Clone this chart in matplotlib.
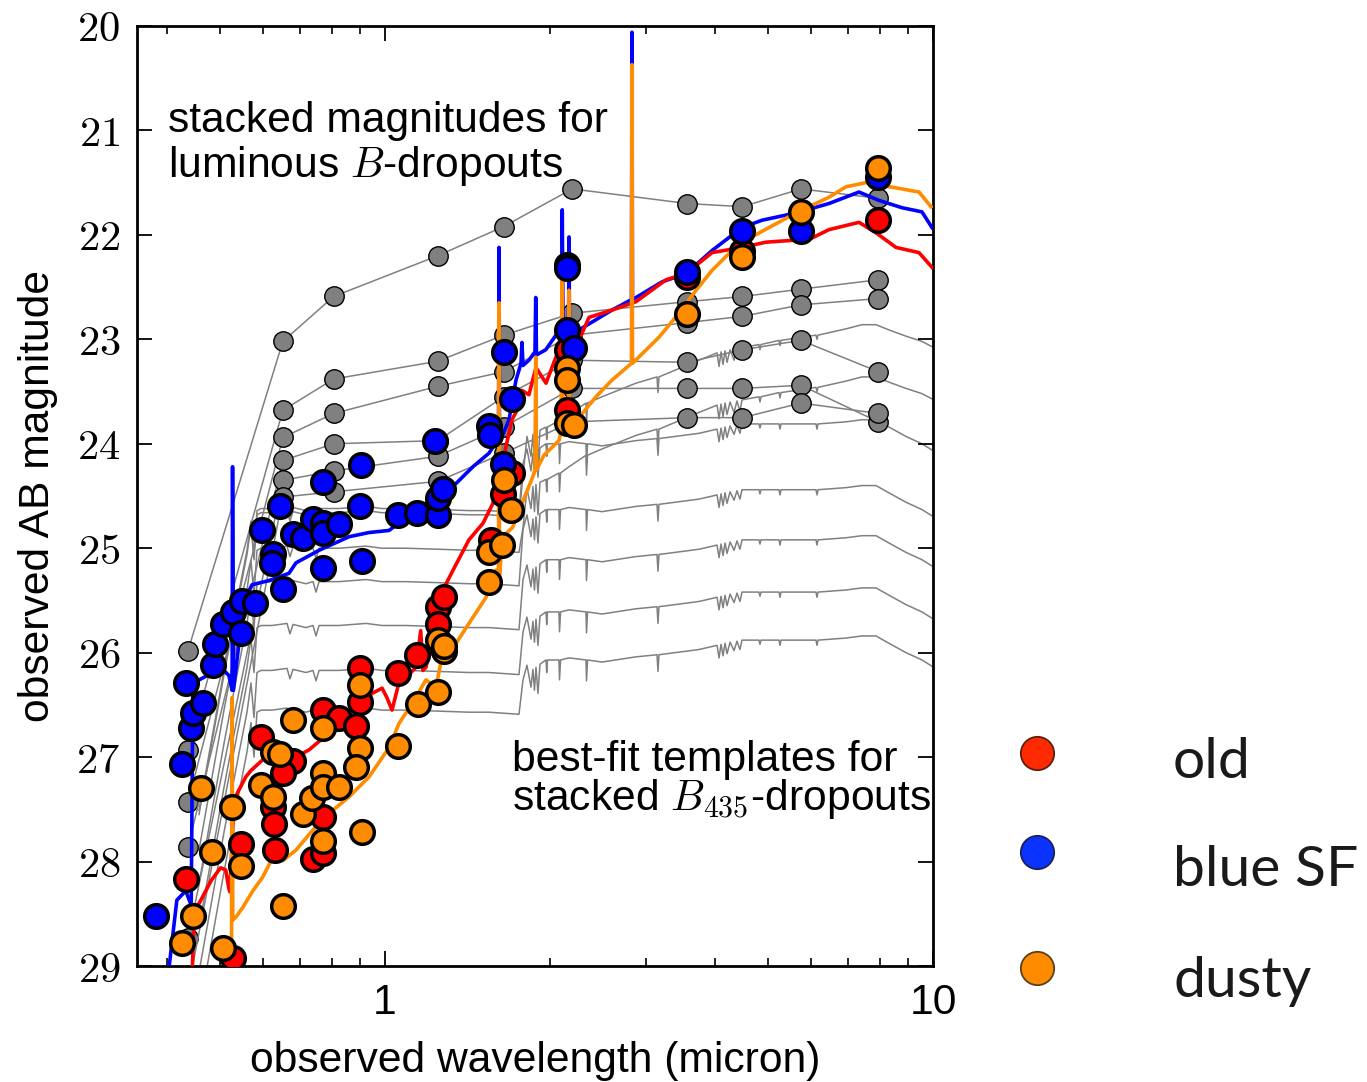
import numpy as np
import matplotlib
matplotlib.use('Agg')
import matplotlib.pyplot as plt
from matplotlib.lines import Line2D
from matplotlib.ticker import FixedLocator, FixedFormatter, LogLocator, NullFormatter

plt.rcParams['font.family'] = ['Liberation Sans', 'DejaVu Sans']
plt.rcParams['mathtext.fontset'] = 'cm'

# stacked photometry (grey dots joined by lines), wavelength in micron
stack_wave = [0.437, 0.651, 0.806, 1.248, 1.647, 2.196, 3.56, 4.49, 5.74, 7.95]
stack_1 = [25.98, 23.02, 22.59, 22.20, 21.92, 21.56, 21.70, 21.73, 21.56, 21.65]
stack_2 = [26.93, 23.68, 23.38, 23.21, 22.96, 22.75, 22.64, 22.59, 22.52, 22.43]
stack_3 = [27.43, 23.94, 23.71, 23.45, 23.31, 22.96, 22.84, 22.78, 22.67, 22.61]
stack_4 = [27.86, 24.16, 24.00, 23.97, 23.55, 23.20, 23.22, 23.10, 23.01, 23.31]
stack_5 = [28.73, 24.35, 24.26, 24.12, 23.84, 23.47, 23.47, 23.47, 23.44, 23.79]
stack_6 = [29.23, 24.51, 24.46, 24.36, 24.09, 23.79, 23.75, 23.75, 23.61, 23.71]
stacks = [stack_1, stack_2, stack_3, stack_4, stack_5, stack_6]

# grey model spectra: same template shifted; blue side relative to its flat level,
# red side relative to the 7.5 micron peak
gray_blue_wave = [0.4577, 0.5084, 0.5416, 0.5600, 0.5695, 0.5767, 0.5840, 0.5939, 0.6220,
                  0.6625, 0.6708, 0.6794, 0.7174, 0.7391, 0.7485, 0.7580, 0.8243, 0.9233,
                  0.9875, 1.092, 1.255, 1.423, 1.548, 1.756]
gray_blue_shape = [2.87, 1.53, 0.77, 0.38, 0.10, 0.43, 0.0, -0.02, -0.02, -0.04, 0.06, -0.03,
                   0.0, -0.02, 0.08, -0.02, -0.02, -0.04, -0.02, -0.02, -0.01, 0.0, 0.0, 0.02]
gray_red_wave = [1.786, 1.816, 1.847, 1.862, 1.874, 1.886, 1.902, 1.918, 1.967, 1.973, 1.979,
                 2.077, 2.082, 2.091, 2.167, 2.327, 2.332, 2.342, 2.489, 2.871, 3.136, 3.149,
                 3.162, 3.741, 4.036, 4.070, 4.104, 4.139, 4.174, 4.209, 4.263, 4.335, 4.389,
                 4.444, 4.482, 4.814, 4.834, 4.854, 5.236, 5.258, 5.280, 6.117, 6.143, 6.169,
                 6.937, 7.420, 7.870, 8.312, 8.928, 9.548, 9.958]
gray_red_shape_low = [0.42, 0.28, 0.49, 0.32, 0.52, 0.30, 0.55, 0.27, 0.23, 0.35, 0.23, 0.23,
                      0.42, 0.23, 0.21, 0.23, 0.43, 0.23, 0.25, 0.20, 0.18, 0.34, 0.18, 0.13,
                      0.09, 0.21, 0.08, 0.19, 0.07, 0.17, 0.06, 0.14, 0.05, 0.13, 0.04, 0.04,
                      0.08, 0.04, 0.04, 0.09, 0.04, 0.04, 0.09, 0.04, 0.02, 0.0, 0.0, 0.07,
                      0.16, 0.23, 0.29]
gray_red_shape_high = [1.44, 1.07, 1.26, 1.05, 1.29, 1.03, 1.32, 1.01, 0.98, 1.10, 0.98, 0.92,
                       1.10, 0.92, 0.86, 0.75, 0.94, 0.75, 0.69, 0.56, 0.50, 0.65, 0.50, 0.34,
                       0.27, 0.40, 0.26, 0.38, 0.25, 0.36, 0.24, 0.34, 0.23, 0.33, 0.22, 0.19,
                       0.24, 0.19, 0.15, 0.20, 0.15, 0.10, 0.14, 0.10, 0.04, 0.0, 0.0, 0.05,
                       0.11, 0.16, 0.21]
gray_blue_level = [26.57, 26.19, 25.76, 25.34, 24.64, 25.02, 24.68]
gray_peak_level = [25.84, 25.38, 24.88, 24.40, 23.77, 23.36, 22.86]
gray_kind = ['low', 'low', 'low', 'low', 'low', 'high', 'high']

# best-fit templates
blue_tpl_wave = [0.400, 0.417, 0.433, 0.443, 0.446, 0.458, 0.486, 0.504, 0.519, 0.526, 0.527,
                 0.529, 0.537, 0.553, 0.572, 0.614, 0.668, 0.688, 0.758, 0.860, 0.935, 1.017,
                 1.060, 1.153, 1.239, 1.348, 1.447, 1.548, 1.594, 1.611, 1.615, 1.618, 1.684,
                 1.734, 1.771, 1.778, 1.786, 1.831, 1.878, 1.884, 1.890, 1.965, 2.051, 2.104,
                 2.106, 2.113, 2.162, 2.167, 2.171, 2.259, 2.596, 2.817, 2.823, 2.829, 3.203,
                 3.543, 3.952, 4.482, 4.875, 5.623, 6.459, 7.328, 7.970, 8.779, 9.548, 9.958]
blue_tpl_mag = [29.19, 28.37, 28.28, 28.42, 26.36, 26.26, 26.19, 26.15, 26.22, 26.36, 24.22,
                26.36, 26.07, 25.50, 25.35, 25.31, 25.24, 25.14, 25.02, 24.89, 24.85, 24.83,
                24.76, 24.61, 24.51, 24.38, 24.22, 24.09, 23.99, 23.99, 22.12, 23.99, 23.77,
                23.39, 23.23, 23.03, 23.25, 23.20, 23.12, 22.60, 23.15, 23.10, 22.96, 22.84,
                21.76, 22.86, 22.91, 22.02, 22.93, 22.91, 22.72, 22.62, 20.06, 22.62, 22.45,
                22.37, 22.15, 21.93, 21.86, 21.79, 21.70, 21.59, 21.67, 21.74, 21.78, 21.93]
red_tpl_wave = [0.444, 0.449, 0.458, 0.482, 0.501, 0.512, 0.519, 0.521, 0.528, 0.537, 0.557,
                0.569, 0.597, 0.614, 0.649, 0.687, 0.727, 0.790, 0.849, 0.912, 0.947, 0.988,
                1.008, 1.030, 1.060, 1.092, 1.139, 1.162, 1.173, 1.188, 1.212, 1.223, 1.239,
                1.331, 1.423, 1.510, 1.574, 1.594, 1.649, 1.705, 1.741, 1.778, 1.831, 1.886,
                1.967, 2.051, 2.140, 2.259, 2.357, 2.596, 2.871, 3.257, 3.543, 3.952, 4.482,
                4.958, 5.623, 6.015, 6.459, 7.328, 7.870, 8.560, 9.430, 9.958]
red_tpl_mag = [29.19, 28.44, 28.40, 28.18, 28.06, 28.08, 28.26, 28.29, 27.63, 27.35, 27.19,
               27.13, 27.03, 26.98, 27.03, 27.00, 26.93, 26.77, 26.71, 26.48, 26.39, 26.34,
               26.43, 26.55, 26.29, 26.24, 26.14, 25.79, 26.17, 26.14, 25.91, 26.02, 25.53,
               25.21, 24.92, 24.76, 24.57, 24.38, 24.11, 23.77, 23.68, 23.49, 23.53, 23.27,
               23.42, 23.17, 22.98, 23.01, 22.79, 22.72, 22.64, 22.43, 22.37, 22.17, 22.12,
               22.07, 22.05, 22.03, 21.95, 21.88, 21.98, 22.12, 22.17, 22.31]
orange_tpl_wave = [0.5246, 0.5258, 0.5276, 0.5347, 0.550, 0.574, 0.598, 0.624, 0.651, 0.688,
                   0.738, 0.790, 0.860, 0.935, 1.017, 1.060, 1.123, 1.188, 1.239, 1.274, 1.348,
                   1.423, 1.529, 1.594, 1.611, 1.615, 1.618, 1.640, 1.710, 1.756, 1.860, 1.878,
                   1.884, 1.890, 1.950, 2.077, 2.095, 2.104, 2.113, 2.162, 2.167, 2.171, 2.259,
                   2.427, 2.596, 2.817, 2.823, 2.829, 3.162, 3.440, 3.695, 3.952, 4.298, 4.558,
                   5.021, 5.623, 6.459, 6.937, 7.545, 8.560, 9.430, 9.917]
orange_tpl_mag = [29.23, 26.43, 28.56, 28.53, 28.44, 28.28, 28.15, 27.96, 27.99, 27.89, 27.70,
                  27.54, 27.38, 27.19, 26.91, 26.68, 26.48, 26.26, 26.33, 26.01, 25.91, 25.72,
                  25.47, 25.21, 25.26, 22.65, 25.26, 24.89, 24.80, 24.64, 24.32, 24.25, 23.17,
                  24.25, 24.11, 23.97, 23.89, 22.31, 23.89, 23.82, 22.53, 23.82, 23.75, 23.55,
                  23.39, 23.23, 20.37, 23.23, 22.98, 22.75, 22.53, 22.34, 22.15, 22.05, 21.93,
                  21.79, 21.64, 21.54, 21.50, 21.55, 21.59, 21.73]

# individual galaxies
blue_dot_wave = [0.382, 0.426, 0.433, 0.443, 0.446, 0.4645, 0.486, 0.490, 0.507, 0.527, 0.546,
                 0.548, 0.579, 0.651, 0.624, 0.622, 0.597, 0.643, 0.679, 0.708, 0.738, 0.772,
                 0.770, 0.825, 0.770, 0.770, 0.904, 0.900, 0.908, 1.055, 1.144, 1.248, 1.248,
                 1.278, 1.235, 1.546, 1.555, 1.640, 1.705, 1.646, 2.150, 2.150, 2.150, 2.214,
                 3.56, 4.49, 5.74, 7.95]
blue_dot_mag = [28.52, 27.07, 26.29, 26.72, 26.58, 26.48, 26.12, 25.92, 25.73, 25.61, 25.81,
                25.51, 25.52, 25.39, 25.06, 25.14, 24.83, 24.60, 24.86, 24.90, 24.72, 24.76,
                24.85, 24.77, 25.19, 24.37, 24.20, 24.60, 25.12, 24.68, 24.66, 24.68, 24.52,
                24.43, 23.97, 23.83, 23.92, 24.19, 23.57, 23.12, 22.29, 22.32, 22.91, 23.08,
                22.36, 21.96, 21.96, 21.45]
red_dot_wave = [0.433, 0.527, 0.594, 0.679, 0.651, 0.624, 0.626, 0.631, 0.546, 0.738, 0.770,
                0.770, 0.770, 0.825, 0.885, 0.900, 0.900, 1.055, 1.146, 1.248, 1.283, 1.248,
                1.561, 1.705, 1.640, 2.150, 2.150, 3.56, 4.49, 7.95]
red_dot_mag = [28.17, 28.92, 26.81, 27.04, 27.15, 27.48, 27.64, 27.89, 27.83, 27.98, 27.92,
               27.57, 26.55, 26.63, 26.70, 26.15, 26.47, 26.19, 26.02, 25.56, 25.47, 25.73,
               24.92, 24.28, 24.48, 23.68, 23.10, 22.40, 22.15, 21.86]
orange_dot_wave = [0.446, 0.426, 0.507, 0.525, 0.484, 0.462, 0.546, 0.624, 0.643, 0.594, 0.625,
                   0.679, 0.708, 0.736, 0.770, 0.770, 0.825, 0.770, 0.770, 0.900, 0.900, 0.885,
                   0.908, 0.651, 1.055, 1.147, 1.248, 1.281, 1.546, 1.636, 1.550, 1.248, 1.283,
                   1.652, 1.698, 2.150, 2.150, 2.150, 2.214, 3.56, 4.49, 5.74, 7.95]
orange_dot_mag = [28.52, 28.78, 28.83, 27.48, 27.91, 27.30, 28.04, 26.95, 26.97, 27.27, 27.38,
                  26.64, 27.54, 27.39, 27.15, 27.29, 27.29, 27.80, 26.72, 26.31, 26.91, 27.09,
                  27.72, 28.43, 26.89, 26.49, 26.38, 25.98, 25.04, 24.97, 25.32, 25.88, 25.94,
                  24.35, 24.63, 23.27, 23.39, 23.80, 23.82, 22.76, 22.21, 21.78, 21.36]

legend_labels = ['old', 'blue SF', 'dusty']
legend_fill = ['#ff2a00', '#0a33ff', '#ff8c00']
legend_edge = ['#5a2010', '#202050', '#5a4020']

fig = plt.figure(figsize=(13.67, 10.82), dpi=100)
ax = fig.add_axes([0.1002, 0.1072, 0.5823, 0.8688])
ax.set_xscale('log')

# grey templates
for i in range(len(gray_blue_level)):
    shape = gray_red_shape_low if gray_kind[i] == 'low' else gray_red_shape_high
    w = gray_blue_wave + gray_red_wave
    m = [v + gray_blue_level[i] for v in gray_blue_shape] + [v + gray_peak_level[i] for v in shape]
    ax.plot(w, m, color='#808080', lw=1.1, zorder=1)

# stacked magnitudes
for s in stacks:
    ax.plot(stack_wave, s, '-o', color='#808080', lw=1.1, ms=14, mfc='#808080',
            mec='black', mew=1.0, zorder=2)

ax.plot(blue_tpl_wave, blue_tpl_mag, color='#0000ff', lw=2.6, zorder=4)
ax.plot(red_tpl_wave, red_tpl_mag, color='#ff0000', lw=2.6, zorder=4)
ax.plot(orange_tpl_wave, orange_tpl_mag, color='#ff8c00', lw=2.6, zorder=4)

dot_kw = dict(ls='none', marker='o', ms=17, mec='black', mew=2.5, zorder=5)
ax.plot(red_dot_wave, red_dot_mag, mfc='#ff0000', **dot_kw)
ax.plot(blue_dot_wave, blue_dot_mag, mfc='#0000ff', **dot_kw)
ax.plot(orange_dot_wave, orange_dot_mag, mfc='#ff8c00', **dot_kw)

ax.set_xlim(0.3527, 10)
ax.set_ylim(29, 20)

ax.xaxis.set_major_locator(FixedLocator([1, 10]))
ax.xaxis.set_major_formatter(FixedFormatter(['1', '10']))
ax.xaxis.set_minor_locator(LogLocator(base=10, subs=np.arange(2, 10) * 1.0, numticks=20))
ax.xaxis.set_minor_formatter(NullFormatter())
yt = list(range(20, 30))
ax.yaxis.set_major_locator(FixedLocator(yt))
ax.yaxis.set_major_formatter(FixedFormatter(['$%d$' % v for v in yt]))

ax.tick_params(which='both', direction='in', top=True, right=True)
ax.tick_params(which='major', length=11, width=1.3, labelsize=30.7)
ax.tick_params(which='minor', length=6, width=1.2)
ax.tick_params(axis='x', pad=12)
ax.tick_params(axis='y', pad=12)
for sp in ax.spines.values():
    sp.set_linewidth(2)

ax.set_xlabel('observed wavelength (micron)', fontsize=30.7)
ax.xaxis.set_label_coords(0.5, -0.080)
ax.set_ylabel('observed AB magnitude', fontsize=30.7)
ax.yaxis.set_label_coords(-0.099, 0.5)

ax.text(0.039, 0.8876, 'stacked magnitudes for', transform=ax.transAxes, fontsize=30.7, va='baseline')
ax.text(0.039, 0.8397, 'luminous $B$-dropouts', transform=ax.transAxes, fontsize=30.7, va='baseline')
ax.text(0.471, 0.2074, 'best-fit templates for', transform=ax.transAxes, fontsize=30.7, va='baseline')
ax.text(0.471, 0.166, 'stacked $B_{435}$-dropouts', transform=ax.transAxes, fontsize=30.7, va='baseline')

# legend drawn beside the axes
marker_y = [1 - 753 / 1082, 1 - 852 / 1082, 1 - 968 / 1082]
text_y = [1 - 778 / 1082, 1 - 886 / 1082, 1 - 997 / 1082]
for lab, fc, ec, my, ty in zip(legend_labels, legend_fill, legend_edge, marker_y, text_y):
    fig.add_artist(Line2D([1037 / 1367], [my], transform=fig.transFigure, ls='none',
                          marker='o', ms=24, mfc=fc, mec=ec, mew=1.3))
    fig.text(1173 / 1367, ty, lab, fontsize=41, family=['Lato', 'DejaVu Sans'],
             va='baseline', color='#1a1a1a')

fig.savefig('out.png', dpi=100)
